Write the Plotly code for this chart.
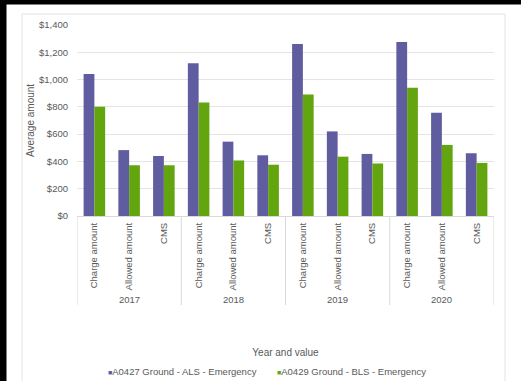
import plotly.graph_objects as go

years = ["2017", "2018", "2019", "2020"]
measures = ["Charge amount", "Allowed amount", "CMS"]
als = [1040, 483, 440, 1120, 545, 445, 1260, 620, 455, 1275, 757, 460]
bls = [800, 372, 372, 832, 407, 376, 891, 435, 385, 940, 521, 389]
series_names = ["A0427 Ground - ALS - Emergency", "A0429 Ground - BLS - Emergency"]
colors = ["#605CA0", "#62A50E"]

n_m = len(measures)
xpos = list(range(len(years) * n_m))
tick_text = [m for _ in years for m in measures]

FONT = "Liberation Sans, Arial, sans-serif"
TXT = "#595959"

fig = go.Figure()
for name, vals, c in zip(series_names, [als, bls], colors):
    fig.add_trace(go.Bar(x=xpos, y=vals, name=name,
                         marker=dict(color=c, line=dict(width=0)),
                         showlegend=False))

W, H = 521, 381
L, R, T, B = 77, 494, 25, 216
pw, ph = R - L, B - T

def px(x):
    return (x - L) / pw

def py(y):
    return (B - y) / ph

shapes = [
    dict(type="rect", xref="paper", yref="paper", x0=px(22), x1=px(505), y0=py(400), y1=py(14),
         line=dict(color="#e3e3e3", width=1), fillcolor="rgba(0,0,0,0)", layer="below"),
    dict(type="rect", xref="paper", yref="paper", x0=px(-5), x1=px(530), y0=py(4.5), y1=py(-5),
         line=dict(width=0), fillcolor="black", layer="above"),
    dict(type="rect", xref="paper", yref="paper", x0=px(-5), x1=px(6.5), y0=py(400), y1=py(-5),
         line=dict(width=0), fillcolor="black", layer="above"),
]
# group dividers
for k in range(len(years) + 1):
    shapes.append(dict(type="line", xref="x", yref="paper", x0=k * n_m - 0.5, x1=k * n_m - 0.5,
                       y0=0, y1=py(305), line=dict(color="#d9d9d9", width=1), layer="below"))

annotations = []
for k, yr in enumerate(years):
    annotations.append(dict(xref="x", yref="paper", x=k * n_m + (n_m - 1) / 2, y=py(299),
                            xanchor="center", yanchor="middle", showarrow=False, text=yr,
                            font=dict(family=FONT, size=9.5, color=TXT)))
leg_x = [106, 275]
for name, c, lx in zip(series_names, colors, leg_x):
    annotations.append(dict(
        xref="paper", yref="paper", x=px(lx), y=py(371), xanchor="left", yanchor="middle",
        showarrow=False,
        text=f'<span style="color:{c};font-size:7px">■</span>{name}',
        font=dict(family=FONT, size=9.5, color=TXT)))

fig.update_layout(
    width=W, height=H,
    margin=dict(l=L, r=W - R, t=T, b=H - B),
    paper_bgcolor="white", plot_bgcolor="white",
    bargap=0.38, bargroupgap=0, barmode="group",
    font=dict(family=FONT, size=9.5, color=TXT),
    shapes=shapes, annotations=annotations,
    showlegend=False,
)
fig.update_xaxes(
    range=[-0.5, len(xpos) - 0.5],
    tickmode="array", tickvals=xpos, ticktext=tick_text, tickangle=-90,
    showline=True, linecolor="#d9d9d9", linewidth=1,
    showgrid=False, zeroline=False, ticks="",
    ticklabelstandoff=2,
    tickfont=dict(family=FONT, size=9.5, color=TXT),
    title=dict(text="Year and value", font=dict(family=FONT, size=10, color=TXT), standoff=59),
    automargin=False,
)
fig.update_yaxes(
    range=[0, 1400], dtick=200, tickformat="$,.0f",
    showgrid=True, gridcolor="#e4e4e4", gridwidth=1,
    zeroline=False, showline=False, ticks="",
    ticklabelstandoff=8,
    tickfont=dict(family=FONT, size=9.5, color=TXT),
    title=dict(text="Average amount", font=dict(family=FONT, size=10, color=TXT), standoff=2),
    automargin=False,
)

fig.write_html("out.html")
